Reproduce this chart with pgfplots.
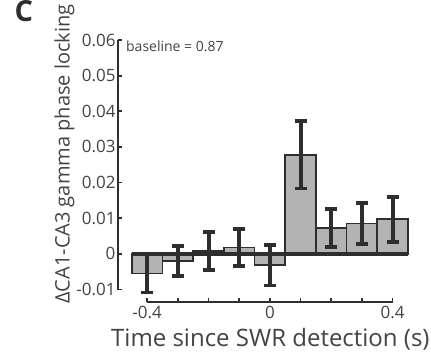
\documentclass[border=0pt]{standalone}
\usepackage{fontspec}
\setmainfont{Open Sans}
\usepackage{pgfplots}
\pgfplotsset{compat=1.18}
\definecolor{bargray}{HTML}{B3B3B3}
\definecolor{darkline}{HTML}{2E2E2E}
\begin{document}
\begin{tikzpicture}
\useasboundingbox (-118pt,-58pt) rectangle (313pt,302pt);
\begin{axis}[
  at={(0,0)}, anchor=south west,
  scale only axis, width=293pt, height=262pt,
  xmin=-0.495, xmax=0.46, ymin=-0.0135, ymax=0.06,
  axis lines=left, axis line style={draw=none, -},
  tick align=inside,
  major tick length=4pt,
  tick style={darkline, line width=1.8pt},
  scaled ticks=false,
  xtick={-0.4,-0.3,-0.2,-0.1,0,0.1,0.2,0.3,0.4},
  xticklabels={-0.4,,,,0,,,,0.4},
  ytick={-0.01,0,0.01,0.02,0.03,0.04,0.05,0.06},
  yticklabels={-0.01,0,0.01,0.02,0.03,0.04,0.05,0.06},
  ticklabel style={font=\fontsize{17}{17}\selectfont, text=darkline!90},
  /pgf/number format/assume math mode=true,
  xticklabel style={yshift=-1pt},
  yticklabel style={xshift=1pt},
  xlabel={Time since SWR detection (s)},
  ylabel={ΔCA1-CA3 gamma phase locking},
  xlabel style={font=\fontsize{24}{24}\selectfont, text=darkline!90, at={(axis description cs:0.52,0)}, anchor=north, yshift=-23pt},
  ylabel style={font=\fontsize{20}{20}\selectfont, text=darkline!90, at={(axis description cs:0,0.565)}, anchor=south, yshift=40pt},
  clip=false,
]
\addplot[ybar, bar width=0.1, fill=bargray, draw=darkline, line width=1.8pt,
  error bars/.cd, y dir=both, y explicit,
  error bar style={line width=4pt, darkline},
  error mark options={rotate=90, mark size=6pt, line width=3.6pt, darkline}]
  table[x=x, y=y, y error=e] {
x     y        e
-0.4  -0.0055  0.0053
-0.3  -0.0020  0.0042
-0.2   0.0008  0.0054
-0.1   0.0018  0.0052
 0.0  -0.0032  0.0057
 0.1   0.0278  0.0095
 0.2   0.0073  0.0053
 0.3   0.0085  0.0057
 0.4   0.0097  0.0063
};
\draw[darkline, line width=4pt] (axis cs:-0.45,0) -- (axis cs:0.45,0);
\draw[darkline, line width=1.8pt] (axis cs:-0.495,-0.01) -- (axis cs:-0.495,0.06);
\draw[darkline, line width=1.8pt] (axis cs:-0.4,-0.0135) -- (axis cs:0.4,-0.0135);
\node[anchor=west, font=\fontsize{14}{14}\selectfont, text=darkline!90] at (axis cs:-0.48,0.0583) {baseline = 0.87};
\end{axis}
\node[anchor=north west, font=\bfseries\fontsize{29}{29}\selectfont, text=darkline] at (-107pt,305pt) {C};
\end{tikzpicture}
\end{document}
